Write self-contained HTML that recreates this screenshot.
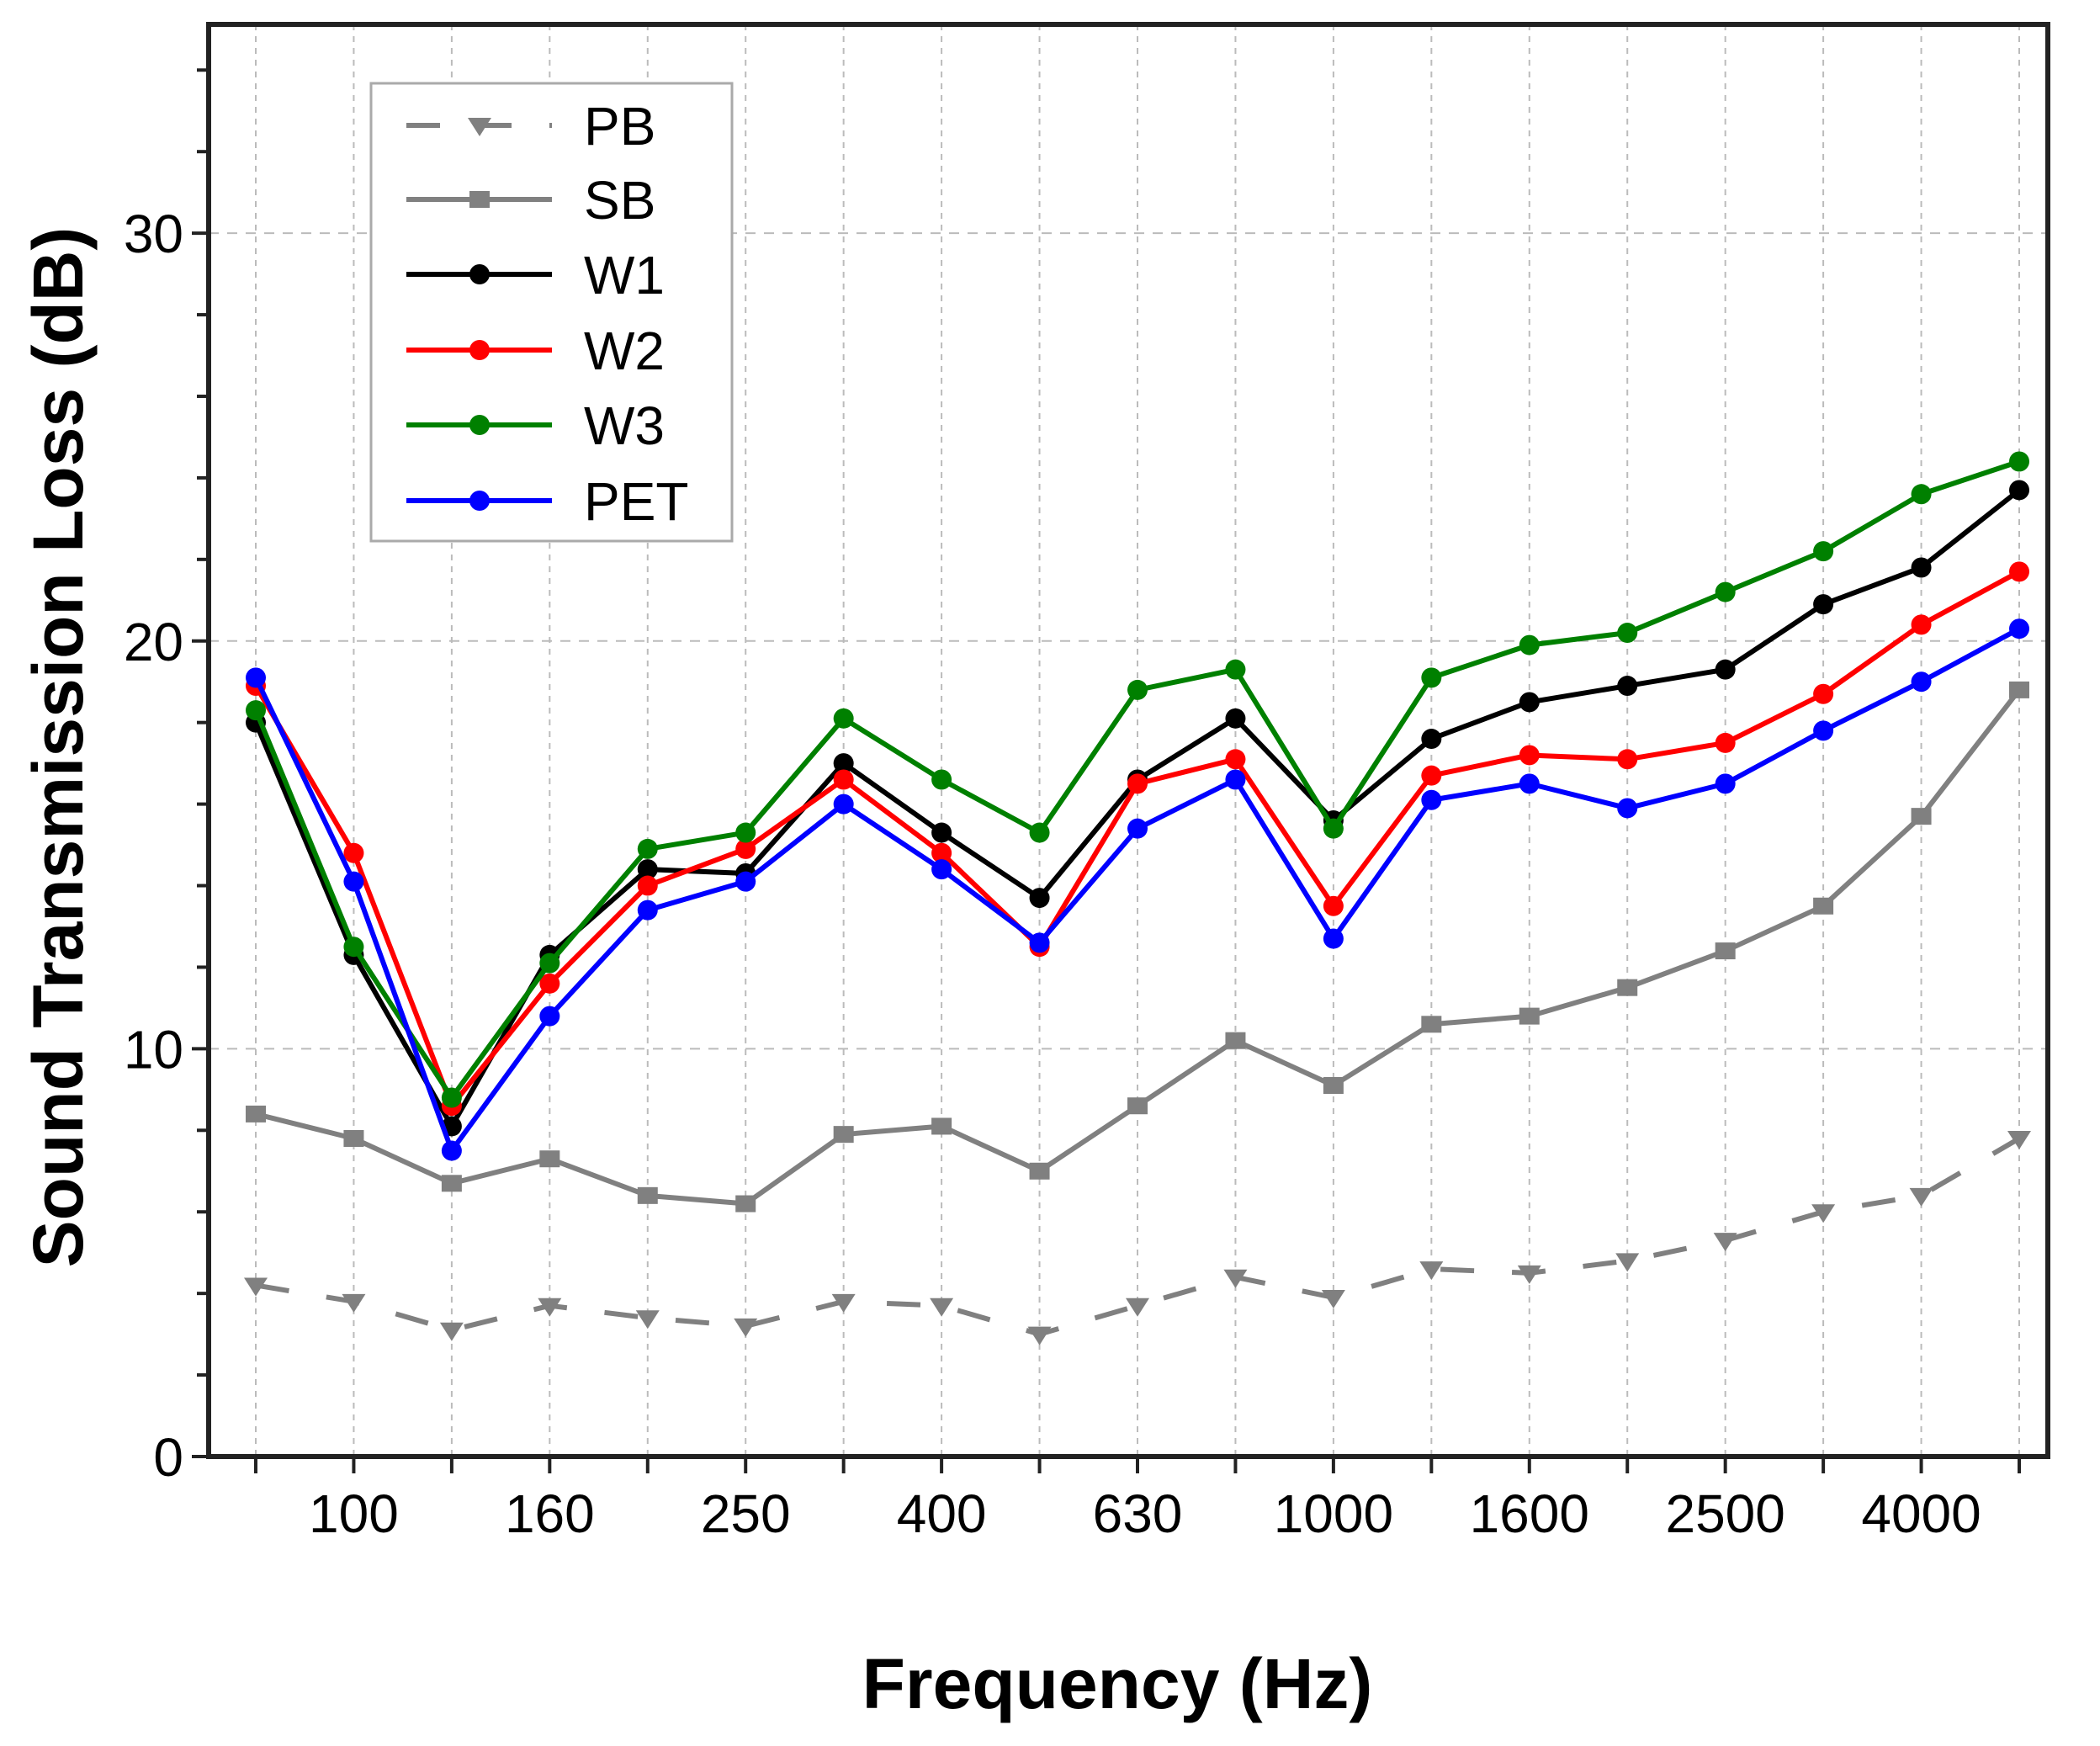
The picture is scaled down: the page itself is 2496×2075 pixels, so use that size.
<!DOCTYPE html>
<html><head><meta charset="utf-8"><style>
html,body{margin:0;padding:0;background:#fff;}
svg text{font-family:"Liberation Sans",Arial,sans-serif;}
</style></head><body>
<svg id="chart" width="2496" height="2070" viewBox="0 0 2496 2070" xmlns="http://www.w3.org/2000/svg">
<rect width="2496" height="2070" fill="#fff"/>
<g id="grid"></g>
<g id="series"></g>
<g id="axes"></g>
<text x="0" y="0" transform="translate(98,888) rotate(-90)" text-anchor="middle" font-size="84" font-weight="bold" fill="#000">Sound Transmission Loss (dB)</text>
<text x="1328" y="2030" text-anchor="middle" font-size="84" font-weight="bold" fill="#000">Frequency (Hz)</text>
<g id="legend"></g>
</svg>
<script>
const categories = ["80","100","125","160","200","250","315","400","500","630","800","1000","1250","1600","2000","2500","3150","4000","5000"];
const tickLabels = ["100","160","250","400","630","1000","1600","2500","4000"];
const yTicks = [0,10,20,30];
const pbValues = [4.2,3.8,3.1,3.7,3.4,3.2,3.8,3.7,3.0,3.7,4.4,3.9,4.6,4.5,4.8,5.3,6.0,6.4,7.8];
const sbValues = [8.4,7.8,6.7,7.3,6.4,6.2,7.9,8.1,7.0,8.6,10.2,9.1,10.6,10.8,11.5,12.4,13.5,15.7,18.8];
const w1Values = [18.0,12.3,8.1,12.3,14.4,14.3,17.0,15.3,13.7,16.6,18.1,15.6,17.6,18.5,18.9,19.3,20.9,21.8,23.7];
const w2Values = [18.9,14.8,8.6,11.6,14.0,14.9,16.6,14.8,12.5,16.5,17.1,13.5,16.7,17.2,17.1,17.5,18.7,20.4,21.7];
const w3Values = [18.3,12.5,8.8,12.1,14.9,15.3,18.1,16.6,15.3,18.8,19.3,15.4,19.1,19.9,20.2,21.2,22.2,23.6,24.4];
const petValues = [19.1,14.1,7.5,10.8,13.4,14.1,16.0,14.4,12.6,15.4,16.6,12.7,16.1,16.5,15.9,16.5,17.8,19.0,20.3];

const NS="http://www.w3.org/2000/svg";
const L=248,R=2434,T=29,B=1731,YMAX=35.12;
const X0=304,XSTEP=(2400-304)/18;
function xs(i){return X0+i*XSTEP;}
function ys(v){return B-(v/YMAX)*(B-T);}
function mk(tag,attrs,parent){const e=document.createElementNS(NS,tag);for(const k in attrs)e.setAttribute(k,attrs[k]);parent.appendChild(e);return e;}

const grid=document.getElementById('grid');
categories.forEach((c,i)=>{
  const g=mk('line',{x1:xs(i),x2:xs(i),y1:T,y2:B,stroke:'#bbb','stroke-width':2,'stroke-dasharray':'7,7'},grid);
  
  
});
yTicks.forEach(v=>{ if(v===0)return;
  const g=mk('line',{x1:L,x2:R,y1:ys(v),y2:ys(v),stroke:'#bbb','stroke-width':2,'stroke-dasharray':'12,10'},grid);
  
  
});

const seriesG=document.getElementById('series');
const seriesList=[
  {name:'PB',vals:pbValues,color:'#808080',dash:'40,45',marker:'tri'},
  {name:'SB',vals:sbValues,color:'#808080',dash:'',marker:'sq'},
  {name:'W1',vals:w1Values,color:'#000000',dash:'',marker:'dot'},
  {name:'W2',vals:w2Values,color:'#ff0000',dash:'',marker:'dot'},
  {name:'W3',vals:w3Values,color:'#008000',dash:'',marker:'dot'},
  {name:'PET',vals:petValues,color:'#0000ff',dash:'',marker:'dot'}
];
function marker(type,x,y,color,parent){
  let m;
  if(type==='dot') m=mk('circle',{cx:x,cy:y,r:12,fill:color},parent);
  else if(type==='sq') m=mk('rect',{x:x-12,y:y-10,width:24,height:20,fill:color},parent);
  else m=mk('polygon',{points:`${x-14},${y-9} ${x+14},${y-9} ${x},${y+13}`,fill:color},parent);
  return m;
}
seriesList.forEach(s=>{
  const g=mk('g',{},seriesG);
  
  
  const pts=s.vals.map((v,i)=>xs(i)+','+ys(v)).join(' ');
  const pl=mk('polyline',{points:pts,fill:'none',stroke:s.color,'stroke-width':6,'stroke-linejoin':'round'},g);
  if(s.dash)pl.setAttribute('stroke-dasharray',s.dash);
  
  
  s.vals.forEach((v,i)=>{
    const m=marker(s.marker,xs(i),ys(v),s.color,g);
    
    
  });
});

const axes=document.getElementById('axes');
const frame=mk('rect',{x:L,y:T,width:R-L,height:B-T,fill:'none',stroke:'#222','stroke-width':6},axes);


for(let v=0;v<=34;v+=2){
  const major=v%10===0;
  const t=mk('line',{x1:L-(major?20:14),x2:L,y1:ys(v),y2:ys(v),stroke:'#222','stroke-width':4},axes);
  
  
}
yTicks.forEach(v=>{
  const t=mk('text',{x:L-30,y:ys(v)+23,'text-anchor':'end','font-size':64,fill:'#000'},axes);
  t.textContent=v;
  
  
});
categories.forEach((c,i)=>{
  const t=mk('line',{x1:xs(i),x2:xs(i),y1:B,y2:B+20,stroke:'#222','stroke-width':4},axes);
  
  
  if(tickLabels.includes(c)){
    const lb=mk('text',{x:xs(i),y:B+90,'text-anchor':'middle','font-size':64,fill:'#000'},axes);
    lb.textContent=c;
    
    
  }
});

const leg=document.getElementById('legend');
const box=mk('rect',{x:441,y:99,width:429,height:544,fill:'#fff',stroke:'#aaa','stroke-width':3},leg);


const legY=[149,237,326,416,505,595];
seriesList.forEach((s,k)=>{
  const g=mk('g',{},leg);
  
  
  const y=legY[k];
  const ln=mk('line',{x1:483,x2:656,y1:y,y2:y,stroke:s.color,'stroke-width':6},g);
  if(s.dash)ln.setAttribute('stroke-dasharray','40,45');
  marker(s.marker,570,y,s.color,g);
  const t=mk('text',{x:694,y:y+23,'font-size':64,fill:'#000'},g);
  t.textContent=s.name;
});
</script>
</body></html>
